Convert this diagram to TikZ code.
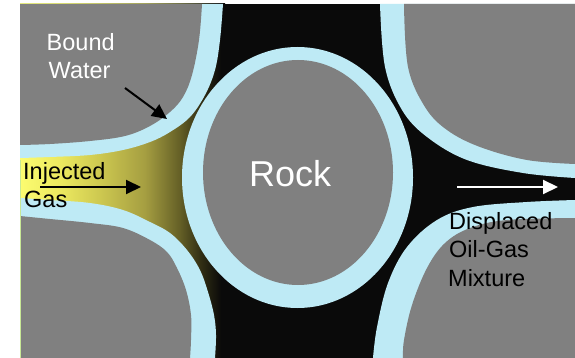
\documentclass[tikz,border=0pt]{standalone}
\usepackage{fontspec}
\setmainfont{Liberation Sans}
\usetikzlibrary{arrows.meta}

\definecolor{grain}{RGB}{128,128,128}
\definecolor{coat}{RGB}{190,234,245}
\definecolor{pore}{RGB}{10,10,10}
\definecolor{gasA}{RGB}{252,252,112}
\definecolor{gasB}{RGB}{235,232,95}
\definecolor{gasC}{RGB}{205,200,80}
\definecolor{gasD}{RGB}{165,158,65}
\definecolor{gasE}{RGB}{100,95,38}
\definecolor{gasF}{RGB}{50,47,20}
\definecolor{edgeline}{RGB}{200,232,150}

% injected gas fading from yellow into the dark pore fluid
\pgfdeclarehorizontalshading{gasfade}{100bp}{color(0bp)=(gasA); color(25bp)=(gasA);
  color(35bp)=(gasB); color(44.5bp)=(gasC); color(55.5bp)=(gasD); color(64bp)=(gasE);
  color(69bp)=(gasF); color(74bp)=(pore); color(100bp)=(pore)}

\tikzset{
  lbl/.style={font=\fontsize{23.5}{28}\selectfont, inner sep=0pt, anchor=base west},
  ptr/.style={line width=2pt, -{Triangle[length=15pt,width=14pt]}},
  curve/.style={smooth, tension=0.6}
}

\begin{document}
\begin{tikzpicture}[x=1pt,y=-1pt]
  \useasboundingbox (0,0) rectangle (575,358);
  \fill[white] (0,0) rectangle (575,358);

  % pore space
  \fill[pore] (20,4) rectangle (575,358);
  \fill[shading=gasfade] (20,4) rectangle (225,358);

  % top-left grain
  \fill[coat] (20,4) -- plot[curve] coordinates {(223,4) (220,40) (215,70) (205,95) (190,117)
    (170,132) (150,142) (123,150) (90,155) (50,157) (20,158)} -- cycle;
  \fill[grain] (20,4) -- plot[curve] coordinates {(202,4) (199,40) (192,75) (183,97) (170,112)
    (150,126) (125,136) (90,141) (50,144) (20,145)} -- cycle;

  % top-right grain
  \fill[coat] (575,4) -- plot[curve] coordinates {(380,4) (385,67) (402,110) (427,137)
    (467,160) (523,173) (575,178)} -- cycle;
  \fill[grain] (575,4) -- plot[curve] coordinates {(404,4) (408,67) (425,107) (447,130)
    (480,147) (527,160) (575,164)} -- cycle;

  % bottom-right grain
  \fill[coat] (575,358) -- plot[curve] coordinates {(575,200) (527,202) (473,207) (437,220)
    (407,247) (388,283) (377,327) (373,358)} -- cycle;
  \fill[grain] (575,358) -- plot[curve] coordinates {(575,218) (507,220) (470,228) (445,243)
    (427,268) (412,305) (404,340) (403,358)} -- cycle;

  % bottom-left grain
  \fill[coat] (20,358) -- plot[curve] coordinates {(20,198) (50,200) (90,203) (123,210)
    (150,222) (170,233) (187,250) (200,270) (208,292) (214,315) (216,335) (215,358)} -- cycle;
  \fill[grain] (20,358) -- plot[curve] coordinates {(20,216) (50,219) (90,223) (123,228)
    (150,240) (167,252) (177,268) (186,290) (191,315) (191,340) (190,358)} -- cycle;
  \draw[edgeline, line width=1pt] (20.5,160) -- (20.5,358);

  % central rock grain with its water film
  \fill[coat] (297.5,177.5) ellipse [x radius=115.5, y radius=130.5];
  \fill[grain] (298,172.5) ellipse [x radius=95, y radius=112.5];

  % labels
  \node[lbl, white] (bound) at (46.5,50.7) {Bound};
  \node[lbl, white] (water) at (48.5,78.3) {Water};
  \node[lbl] (injected) at (23,179.5) {Injected};
  \node[lbl] (gas) at (24,207.5) {Gas};
  \node[lbl] (displaced) at (449,229) {Displaced};
  \node[lbl] (oilgas) at (449,257.5) {Oil-Gas};
  \node[lbl] (mixture) at (448,286) {Mixture};
  \node[font=\fontsize{36}{40}\selectfont, white, inner sep=0pt, anchor=base west] (rock)
    at (249,186.5) {Rock};

  % arrows
  \coordinate (bwTail) at (125,88);
  \coordinate (bwTip) at (167,119);
  \coordinate (gasTail) at (40,187);
  \coordinate (gasTip) at (141,187);
  \coordinate (mixTail) at (457,187);
  \coordinate (mixTip) at (558,187);
  \draw[ptr] (bwTail) -- (bwTip);
  \draw[ptr] (gasTail) -- (gasTip);
  \draw[ptr, white] (mixTail) -- (mixTip);
\end{tikzpicture}
\end{document}
